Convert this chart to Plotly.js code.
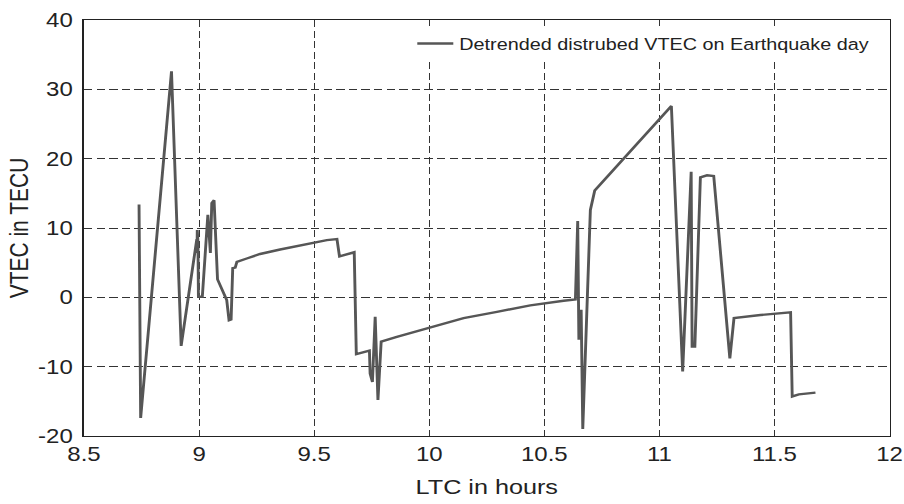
<!DOCTYPE html>
<html>
<head>
<meta charset="utf-8">
<script src="https://cdn.plot.ly/plotly-3.0.1.min.js"></script>
<style>
  html, body { margin: 0; padding: 0; background: #fff; overflow: hidden; }
  /* the figure is laid out narrower and widened to the page width */
  #chart { width: 753px; height: 504px; transform: scaleX(1.2005); transform-origin: 0 0; }
</style>
</head>
<body>
<div id="chart"></div>
<script>
// Local time (hours) of each sample
const ltcHours = [
  8.739, 8.746, 8.880, 8.922, 8.990, 8.991, 8.992, 8.995, 8.997, 9.014,
  9.038, 9.049, 9.055, 9.065, 9.080, 9.120, 9.130, 9.139, 9.146, 9.157,
  9.164, 9.207, 9.265, 9.352, 9.425, 9.497, 9.555, 9.599, 9.610, 9.674,
  9.683, 9.740, 9.743, 9.753, 9.765, 9.777, 9.791, 9.859, 10.004, 10.149,
  10.294, 10.439, 10.584, 10.635, 10.645, 10.650, 10.660, 10.667, 10.700, 10.704,
  10.719, 11.052, 11.101, 11.138, 11.142, 11.154, 11.178, 11.207, 11.236, 11.306,
  11.324, 11.439, 11.504, 11.570, 11.577, 11.606, 11.678
];

// Detrended VTEC (TECU) on the earthquake day
const vtecDetrended = [
  13.4, -17.4, 32.6, -7.0, 8.4, 6.4, 9.7, 8.0, 0.1, 0.1,
  11.9, 6.4, 13.6, 14.0, 2.6, -0.4, -3.3, -3.2, 4.2, 4.3,
  5.1, 5.6, 6.25, 6.9, 7.4, 7.9, 8.25, 8.4, 5.9, 6.5,
  -8.2, -7.7, -11.0, -12.2, -2.8, -14.8, -6.4, -5.7, -4.4, -3.0,
  -2.1, -1.15, -0.5, -0.3, 11.0, -6.1, -1.8, -19.0, 12.6, 13.1,
  15.4, 27.6, -10.7, 18.1, -7.1, -7.1, 17.3, 17.6, 17.5, -8.8,
  -3.0, -2.55, -2.3, -2.15, -14.3, -14.0, -13.75
];

const seriesName = 'Detrended distrubed VTEC on Earthquake day';
const xTicks = [8.5, 9, 9.5, 10, 10.5, 11, 11.5, 12];
const yTicks = [-20, -10, 0, 10, 20, 30, 40];

const fontFamily = 'Liberation Sans, Arial, sans-serif';
const tickFont = { family: fontFamily, size: 20, color: '#222' };
const titleFont = { family: fontFamily, size: 21, color: '#222' };

const trace = {
  x: ltcHours,
  y: vtecDetrended,
  type: 'scatter',
  mode: 'lines',
  name: seriesName,
  line: { color: '#565656', width: 2.4 },
  showlegend: true
};

const commonAxis = {
  showline: true,
  linecolor: '#222',
  linewidth: 1.4,
  mirror: true,
  showgrid: true,
  gridcolor: '#333',
  gridwidth: 1,
  griddash: '7px,3.5px',
  zeroline: false,
  ticks: '',
  tickfont: tickFont
};

const layout = {
  width: 753,
  height: 504,
  margin: { l: 70, r: 12, t: 20, b: 68 },
  paper_bgcolor: '#fff',
  plot_bgcolor: '#fff',
  font: { family: fontFamily, color: '#222' },
  xaxis: Object.assign({}, commonAxis, {
    range: [8.5, 12],
    tickvals: xTicks,
    ticktext: xTicks.map(String),
    title: { text: 'LTC in hours', font: titleFont, standoff: 15 }
  }),
  yaxis: Object.assign({}, commonAxis, {
    range: [-20, 40],
    tickvals: yTicks,
    ticktext: yTicks.map(String),
    ticklabelstandoff: 4,
    title: { text: 'VTEC in TECU', font: titleFont, standoff: 2 }
  }),
  legend: {
    x: 0.983,
    y: 0.985,
    xanchor: 'right',
    yanchor: 'top',
    bgcolor: '#fff',
    borderwidth: 0,
    font: { family: fontFamily, size: 16.5, color: '#222' }
  }
};

Plotly.newPlot('chart', [trace], layout, { displayModeBar: false, staticPlot: true });
</script>
</body>
</html>
